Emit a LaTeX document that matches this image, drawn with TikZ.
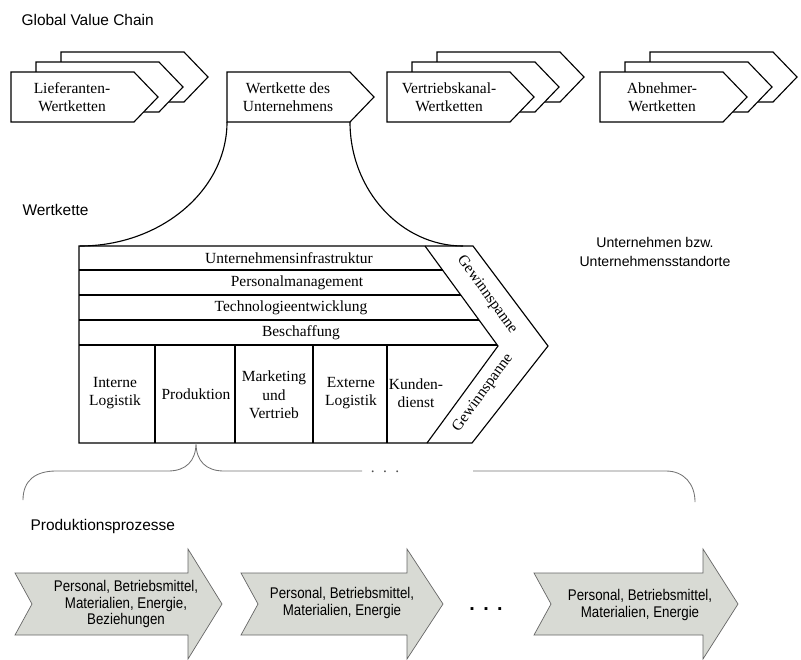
\documentclass[tikz,border=0pt]{standalone}
\usepackage{fontspec}
\usepackage{tikz}
\setmainfont{Liberation Serif}
\setsansfont{Liberation Sans}
\newfontfamily\narrowsans[FakeStretch=0.86]{Liberation Sans}
\definecolor{procfill}{RGB}{216,218,212}
\newcommand{\wchev}[2]{\draw[fill=white] (#1,#2) -- ++(123,0) -- ++(24,25) -- ++(-24,25) -- ++(-123,0) -- cycle;}
\newcommand{\wstack}[2]{\wchev{#1+50}{#2-20}\wchev{#1+25}{#2-10}\wchev{#1}{#2}}
\newcommand{\parrow}[3]{\draw[procarrow] (#1,573) -- (#2,573) -- (#2,549) -- (#3,604) -- (#2,659) -- (#2,635) -- (#1,635) -- (#1+17,604) -- cycle;}

\begin{document}
\begin{tikzpicture}[x=0.025cm, y=-0.025cm, line width=0.8pt,
  vtext/.style={font=\fontsize{11}{13}\selectfont, align=center, inner sep=1pt},
  hdtext/.style={font=\sffamily\fontsize{11}{13}\selectfont, anchor=west, inner sep=0pt},
  proctext/.style={font=\narrowsans\fontsize{11}{11.8}\selectfont, align=center, inner sep=0pt},
  brace/.style={draw=black!55, line width=0.6pt},
  procarrow/.style={draw=black!60, line width=0.5pt, fill=procfill}]
\useasboundingbox (0,0) rectangle (801,659);

% global value chain
\node[hdtext] (gvc) at (21,20) {Global Value Chain};
\wstack{11}{72}
\wchev{227}{72}
\wstack{387}{72}
\wstack{600}{72}
\node[vtext] (lief) at (72,97) {Lieferanten-\\Wertketten};
\node[vtext] (unt) at (288,97) {Wertkette des\\Unternehmens};
\node[vtext] (vert) at (449,97) {Vertriebskanal-\\Wertketten};
\node[vtext] (abn) at (662,97) {Abnehmer-\\Wertketten};

% wertkette
\node[hdtext] (wk) at (22,210) {Wertkette};
\node[font=\sffamily\fontsize{10}{13.5}\selectfont, align=center] (ustd) at (655,252) {Unternehmen bzw.\\Unternehmensstandorte};
\draw (79,246) -- (473,246) -- (548,346) -- (472,443) -- (79,443) -- cycle;
\draw (425,246) -- (498,346) -- (427,443);
\foreach \y/\x in {270/443, 295/461, 320/479, 345/497}
  \draw (79,\y) -- (\x,\y);
\foreach \x in {155,235,313,387}
  \draw (\x,345) -- (\x,443);
\coordinate (ubl) at (227,122);
\coordinate (ubr) at (350,122);
\coordinate (vtl) at (80,246);
\coordinate (vtr) at (463,246);
\draw (ubl) .. controls (227,190) and (161,246) .. (vtl);
\draw (ubr) .. controls (350,190) and (401,246) .. (vtr);

\node[vtext] (infra) at (289,258) {Unternehmensinfrastruktur};
\node[vtext] (pers) at (297,283) {Personalmanagement};
\node[vtext] (tech) at (291,308) {Technologieentwicklung};
\node[vtext] (besch) at (301,333) {Beschaffung};
\node[vtext] (inlog) at (115,393) {Interne\\Logistik};
\node[vtext] (prod) at (196,394) {Produktion};
\node[vtext] (mark) at (274,395) {Marketing\\und\\Vertrieb};
\node[vtext] (exlog) at (351,393) {Externe\\Logistik};
\node[vtext] (kund) at (416,393) {Kunden-\\dienst};
\node[vtext, rotate=-54] (gew1) at (487,295) {Gewinnspanne};
\node[vtext, rotate=54] (gew2) at (483,393) {Gewinnspanne};

% produktionsprozesse
\coordinate (prodbot) at (196,443);
\draw[brace] (23,500) .. controls (23,480) and (36,471) .. (56,471) -- (168,471)
  .. controls (186,471) and (196,461) .. (prodbot)
  .. controls (196,461) and (206,471) .. (224,471) -- (362,471);
\draw[brace] (473,471) -- (666,471) .. controls (684,471) and (695,484) .. (695,502);
\node[font=\fontsize{11}{11}\selectfont, anchor=base, inner sep=0pt, text=black!70] (gapdots) at (385,472) {.\hspace{6pt}.\hspace{6pt}.};
\node[hdtext] (pp) at (30,526) {Produktionsprozesse};

\parrow{15}{188}{222}
\parrow{241}{407}{443}
\parrow{534}{703}{738}
\node[proctext] (proc1) at (126,604) {Personal, Betriebsmittel,\\Materialien, Energie,\\Beziehungen};
\node[proctext] (proc2) at (342,603) {Personal, Betriebsmittel,\\Materialien, Energie};
\node[proctext] (proc3) at (640,605) {Personal, Betriebsmittel,\\Materialien, Energie};
\node[font=\sffamily\bfseries\fontsize{14}{14}\selectfont, anchor=base, inner sep=0pt] (pdots) at (486,610) {.\hspace{6pt}.\hspace{6pt}.};
\end{tikzpicture}
\end{document}
